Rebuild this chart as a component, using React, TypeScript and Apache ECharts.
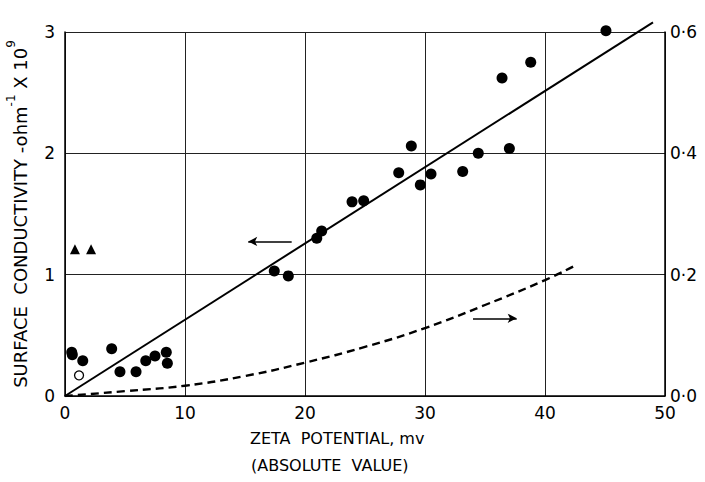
import React, { useEffect, useRef } from "react";
import * as echarts from "echarts";

const FONT = "DejaVu Sans";

// Filled circles: [zeta potential (mV), surface conductivity (x1e-9 ohm^-1)]
const filledPoints: number[][] = [
  [0.56, 0.36], [0.61, 0.34], [1.48, 0.29], [3.89, 0.39], [4.58, 0.2],
  [5.92, 0.2], [6.73, 0.29], [7.5, 0.33], [8.44, 0.36], [8.53, 0.27],
  [17.44, 1.03], [18.61, 0.99], [20.98, 1.3], [21.39, 1.36], [23.92, 1.6],
  [24.89, 1.61], [27.81, 1.84], [28.86, 2.06], [29.61, 1.74], [30.5, 1.83],
  [33.14, 1.85], [34.44, 2.0], [36.42, 2.62], [37.03, 2.04], [38.81, 2.75],
  [45.08, 3.01],
];
const openPoints: number[][] = [[1.17, 0.17]];
const trianglePoints: number[][] = [[0.83, 1.21], [2.17, 1.21]];

// Fitted straight line (left axis)
const fitLine: number[][] = [[0, 0], [49, 3.08]];
// Dashed curve (right axis)
const dashedCurve: number[][] = [
  [0, 0], [5, 0.008], [10, 0.017], [15, 0.033], [20, 0.055], [25, 0.081],
  [30, 0.112], [35, 0.15], [40, 0.191], [42.5, 0.215],
];

// Arrows pointing to the relevant axis
const leftArrow: number[][] = [[15.27, 1.274], [18.89, 1.274]];
const rightArrow: number[][] = [[34.0, 0.64], [37.64, 0.64]];

const xTicks = { min: 0, max: 50, interval: 10 };
const yLeftTicks = { min: 0, max: 3, interval: 1 };
const yRightTicks = { min: 0, max: 0.6, interval: 0.2 };

export default function App() {
  const ref = useRef<HTMLDivElement>(null);
  useEffect(() => {
    if (!ref.current) return;
    const chart = echarts.init(ref.current, null, { renderer: "svg" });
    const labelStyle = { color: "#000", fontSize: 17, fontFamily: FONT };
    chart.setOption({
      animation: false,
      backgroundColor: "#fff",
      grid: { left: 65, right: 40, top: 32, bottom: 86, containLabel: false, outerBoundsMode: "none" },
      xAxis: {
        type: "value",
        ...xTicks,
        axisLine: { show: true, onZero: false, lineStyle: { color: "#000", width: 1.5 } },
        axisTick: { show: false },
        axisLabel: { ...labelStyle, margin: 8 },
        splitLine: { show: true, lineStyle: { color: "#222", width: 1 } },
      },
      yAxis: [
        {
          type: "value",
          ...yLeftTicks,
          position: "left",
          name: "{a|SURFACE  CONDUCTIVITY -ohm}{s|-1}{a| X 10}{s|9}",
          nameLocation: "middle",
          nameGap: 36,
          nameRotate: 90,
          nameTextStyle: {
            rich: {
              a: { fontSize: 18, fontFamily: FONT, color: "#000", lineHeight: 24, verticalAlign: "bottom" },
              s: { fontSize: 12, fontFamily: FONT, color: "#000", lineHeight: 24, verticalAlign: "top" },
            },
          },
          axisLine: { show: true, lineStyle: { color: "#000", width: 1.5 } },
          axisTick: { show: false },
          axisLabel: { ...labelStyle, margin: 10 },
          splitLine: { show: true, lineStyle: { color: "#222", width: 1 } },
        },
        {
          type: "value",
          ...yRightTicks,
          position: "right",
          axisLine: { show: true, lineStyle: { color: "#000", width: 1.5 } },
          axisTick: { show: false },
          axisLabel: {
            ...labelStyle,
            margin: 5,
            formatter: (v: number) => v.toFixed(1).replace(".", "·"),
          },
          splitLine: { show: false },
        },
      ],
      graphic: [
        {
          type: "text",
          left: 250,
          top: 430,
          style: { text: "ZETA  POTENTIAL, mv", fontSize: 16, fontFamily: FONT, fill: "#000" },
        },
        {
          type: "text",
          left: 251,
          top: 457,
          style: { text: "(ABSOLUTE  VALUE)", fontSize: 16, fontFamily: FONT, fill: "#000" },
        },
      ],
      series: [
        {
          type: "line",
          data: fitLine,
          yAxisIndex: 0,
          symbol: "none",
          clip: false,
          lineStyle: { color: "#000", width: 2 },
          silent: true,
          markLine: {
            silent: true,
            symbol: ["arrow", "none"],
            symbolSize: [7, 9],
            label: { show: false },
            lineStyle: { color: "#000", width: 1.5, type: "solid" },
            data: [[{ coord: leftArrow[0] }, { coord: leftArrow[1] }]],
          },
        },
        {
          type: "line",
          data: dashedCurve,
          yAxisIndex: 1,
          symbol: "none",
          smooth: true,
          lineStyle: { color: "#000", width: 2.4, type: [8, 5] },
          silent: true,
        },
        {
          type: "line",
          data: [],
          yAxisIndex: 0,
          symbol: "none",
          markLine: {
            silent: true,
            symbol: ["none", "arrow"],
            symbolSize: [7, 9],
            label: { show: false },
            lineStyle: { color: "#000", width: 1.5, type: "solid" },
            data: [[{ coord: rightArrow[0] }, { coord: rightArrow[1] }]],
          },
        },
        {
          type: "scatter",
          data: filledPoints,
          yAxisIndex: 0,
          symbol: "circle",
          symbolSize: 11,
          clip: false,
          itemStyle: { color: "#000", opacity: 1 },
        },
        {
          type: "scatter",
          data: openPoints,
          yAxisIndex: 0,
          symbol: "circle",
          symbolSize: 9,
          itemStyle: { color: "#fff", borderColor: "#000", borderWidth: 1.3, opacity: 1 },
        },
        {
          type: "scatter",
          data: trianglePoints,
          yAxisIndex: 0,
          symbol: "triangle",
          symbolSize: 10,
          itemStyle: { color: "#000", opacity: 1 },
        },
      ],
    });
    return () => chart.dispose();
  }, []);
  return <div ref={ref} style={{ width: 705, height: 482, position: "absolute", left: 0, top: 0 }} />;
}
